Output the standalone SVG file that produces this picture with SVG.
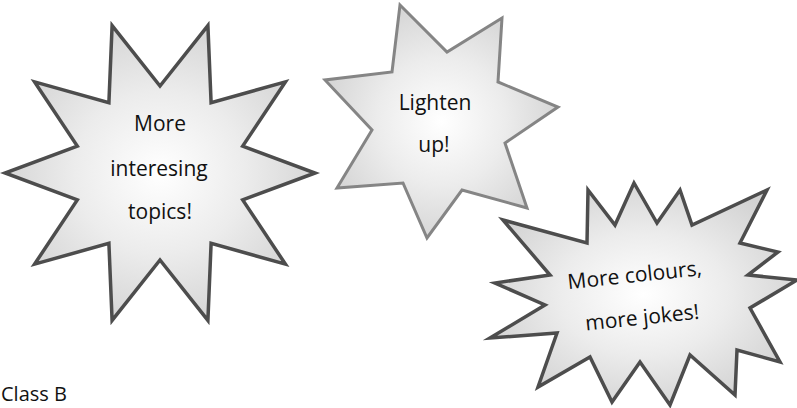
<svg xmlns="http://www.w3.org/2000/svg" width="797" height="408" viewBox="0 0 797 408">
<style>
.lbl{font-family:"Open Sans","DejaVu Sans",sans-serif;font-size:21px;fill:#111;text-anchor:middle}
.dark{stroke:#4d4d4d;stroke-width:3.5;stroke-linejoin:miter;stroke-miterlimit:20}
.light{stroke:#858585;stroke-width:3;stroke-linejoin:miter;stroke-miterlimit:20}
</style>
<defs>
<radialGradient id="g" cx="50%" cy="50%" r="55%">
<stop offset="0" stop-color="#ffffff"/>
<stop offset="0.5" stop-color="#ececec"/>
<stop offset="1" stop-color="#d2d2d2"/>
</radialGradient>
</defs>
<rect width="797" height="408" fill="#ffffff"/>
<g id="star-topics">
<polygon class="dark" fill="url(#g)" points="315,173 242.7,199.9 285.4,264.1 211.1,243.4 207.9,320.4 160,260 112.1,320.4 108.9,243.4 34.6,264.1 77.3,199.9 5,173 77.3,146.1 34.6,81.9 108.9,102.6 112.1,25.6 160,86 207.9,25.6 211.1,102.6 285.4,81.9 242.7,146.1"/>
<text class="lbl" x="160" y="131">More</text>
<text class="lbl" x="159" y="176">interesing</text>
<text class="lbl" x="160" y="219">topics!</text>
</g>
<g id="star-lighten">
<polygon class="light" fill="url(#g)" points="400,5 447,52 502,18 498,82 558,107 505,143 527,208 462,190 427,238 403,183 337,188 372,130 325,80 392,72"/>
<text class="lbl" x="435" y="110">Lighten</text>
<text class="lbl" x="434" y="152">up!</text>
</g>
<g id="star-colours">
<polygon class="dark" fill="url(#g)" points="503,220 587,243 588,190 615,225 634,183 657,223 680,190 692,225 767,190 740,243 778,252 748,275 797,280 750,308 780,362 737,350 735,395 690,355 670,405 640,362 612,402 590,357 538,387 557,333 490,338 545,305 495,283 550,275"/>
<g transform="rotate(-6 637 297)">
<text class="lbl" x="637" y="282">More colours,</text>
<text class="lbl" x="640" y="325">more jokes!</text>
</g>
</g>
<text x="1" y="401" style="font-family:'Open Sans','DejaVu Sans',sans-serif;font-size:20px;fill:#111">Class B</text>
</svg>
